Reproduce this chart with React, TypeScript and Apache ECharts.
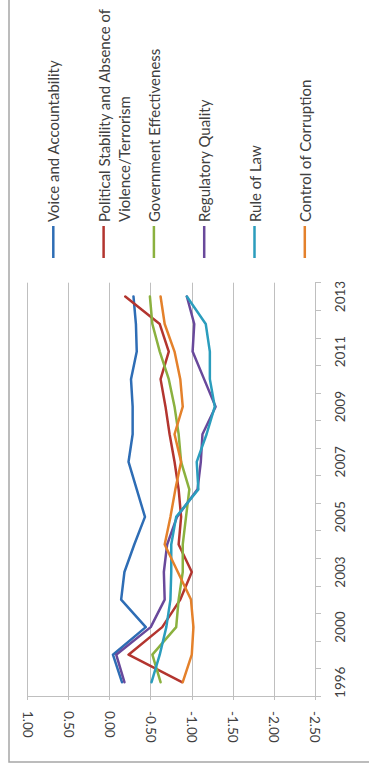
import { useEffect, useRef } from 'react';
import * as echarts from 'echarts';

// Worldwide Governance Indicators, estimate (-2.5 … 2.5)
const years = ['1996', '1998', '2000', '2002', '2003', '2004', '2005', '2006', '2007', '2008', '2009', '2010', '2011', '2012', '2013'];

const voiceAccountability = [-0.15, -0.04, -0.44, -0.14, -0.18, -0.30, -0.43, -0.33, -0.23, -0.28, -0.28, -0.26, -0.33, -0.32, -0.29];
const politicalStability = [-0.88, -0.23, -0.64, -0.86, -1.00, -0.84, -0.87, -0.84, -0.79, -0.73, -0.68, -0.62, -0.72, -0.61, -0.19];
const governmentEffectiveness = [-0.62, -0.52, -0.81, -0.84, -0.89, -0.89, -0.93, -0.97, -0.87, -0.84, -0.79, -0.72, -0.61, -0.52, -0.49];
const regulatoryQuality = [-0.18, -0.08, -0.50, -0.67, -0.66, -0.70, -0.82, -1.07, -1.11, -1.13, -1.29, -1.15, -1.01, -1.03, -0.94];
const ruleOfLaw = [-0.51, -0.61, -0.69, -0.74, -0.75, -0.75, -0.81, -1.08, -1.06, -1.18, -1.28, -1.22, -1.22, -1.17, -0.94];
const controlOfCorruption = [-0.89, -1.00, -1.02, -0.99, -0.83, -0.67, -0.74, -0.80, -0.87, -0.79, -0.89, -0.86, -0.79, -0.67, -0.62];

const seriesNames = [
  'Voice and Accountability',
  'Political Stability and Absence of Violence/Terrorism',
  'Government Effectiveness',
  'Regulatory Quality',
  'Rule of Law',
  'Control of Corruption',
];
const legendLines = [
  ['Voice and Accountability'],
  ['Political Stability and Absence of', 'Violence/Terrorism'],
  ['Government Effectiveness'],
  ['Regulatory Quality'],
  ['Rule of Law'],
  ['Control of Corruption'],
];
const seriesValues = [
  voiceAccountability,
  politicalStability,
  governmentEffectiveness,
  regulatoryQuality,
  ruleOfLaw,
  controlOfCorruption,
];
const colors = ['#2e6db5', '#b3352f', '#8bb13f', '#69499b', '#2b9dbd', '#e4812b'];

const FONT = 'Lato, "Open Sans", sans-serif';
const TEXT = '#404040';
const GRID = '#bfbfbf';

export default function App() {
  const ref = useRef<HTMLDivElement>(null);

  useEffect(() => {
    const chart = echarts.init(ref.current!, null, { renderer: 'svg' });

    // Rotated legend: short colour bar with the name reading upwards
    const legendX0 = 53.3;
    const legendStep = 50.3;
    const legendGraphics: any[] = [];
    legendLines.forEach((lines, i) => {
      const x = legendX0 + legendStep * i;
      legendGraphics.push({
        type: 'line',
        shape: { x1: x, y1: 226, x2: x, y2: 258 },
        style: { stroke: colors[i], lineWidth: 2.5 },
        silent: true,
      });
      lines.forEach((t, j) => {
        legendGraphics.push({
          type: 'text',
          x: x + j * 20,
          y: 222,
          rotation: Math.PI / 2,
          style: {
            text: t,
            fontFamily: FONT,
            fontSize: 15,
            fill: TEXT,
            align: 'left',
            verticalAlign: 'middle',
            textAlign: 'left',
            textVerticalAlign: 'middle',
          },
          silent: true,
        });
      });
    });

    chart.setOption({
      animation: false,
      backgroundColor: '#ffffff',
      grid: {
        left: 27.5,
        right: 54,
        top: 282.7,
        bottom: 73,
        containLabel: false,
        outerBoundsMode: 'none',
      },
      xAxis: {
        type: 'value',
        min: -2.5,
        max: 1,
        interval: 0.5,
        inverse: true,
        position: 'bottom',
        axisLine: { show: true, onZero: false, lineStyle: { color: GRID, width: 1 } },
        axisTick: { show: true, length: 4, lineStyle: { color: GRID } },
        splitLine: { show: true, lineStyle: { color: GRID, width: 1 } },
        axisLabel: {
          // the inverted axis turns the label frame round, so -90 reads upwards
          rotate: -90,
          margin: 15,
          color: TEXT,
          fontFamily: FONT,
          fontSize: 13.5,
          formatter: (v: number) => v.toFixed(2),
        },
      },
      yAxis: {
        type: 'category',
        data: years,
        position: 'right',
        boundaryGap: true,
        axisLine: { show: true, onZero: false, lineStyle: { color: GRID, width: 1 } },
        axisTick: { show: true, length: 6, interval: 0, lineStyle: { color: GRID } },
        splitLine: { show: false },
        axisLabel: {
          rotate: 90,
          interval: 1,
          margin: 18,
          color: TEXT,
          fontFamily: FONT,
          fontSize: 13.5,
        },
      },
      series: seriesValues.map((vals, i) => ({
        name: seriesNames[i],
        type: 'line',
        data: vals.map((v, k) => [v, years[k]]),
        symbol: 'none',
        showSymbol: false,
        lineStyle: { color: colors[i], width: 2.5, cap: 'round', join: 'round' },
        itemStyle: { color: colors[i] },
        z: 2 + i,
      })),
      graphic: [
        {
          type: 'rect',
          shape: { x: 9, y: -10, width: 400, height: 772 },
          style: { fill: 'none', stroke: '#a6a6a6', lineWidth: 1.5 },
          silent: true,
        },
        ...legendGraphics,
      ],
    });

    return () => chart.dispose();
  }, []);

  return (
    <div
      ref={ref}
      style={{ position: 'absolute', left: 0, top: 0, width: 369, height: 769 }}
    />
  );
}
